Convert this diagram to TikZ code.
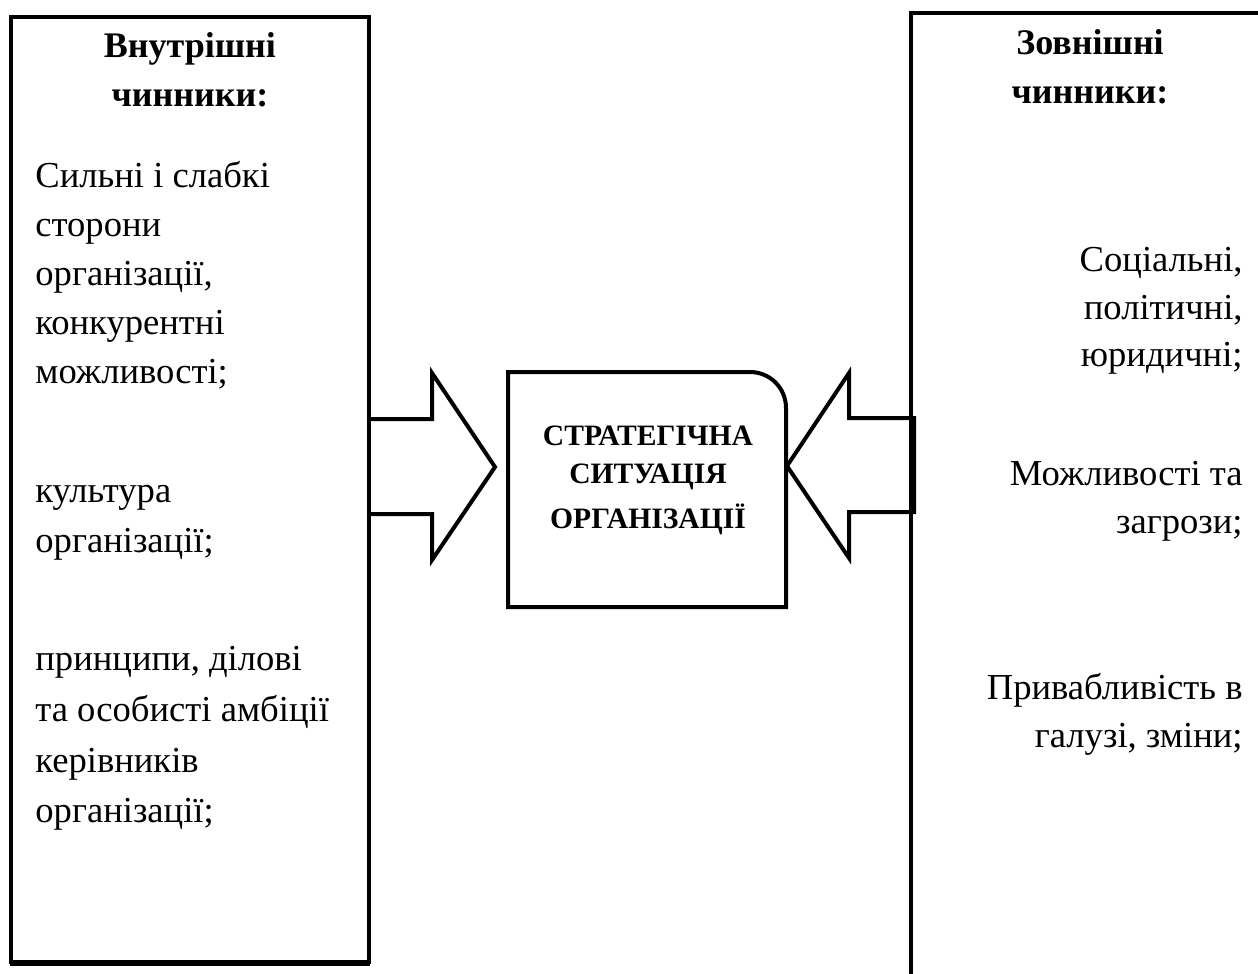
\documentclass[tikz,border=0pt]{standalone}
\usepackage{fontspec}
\setmainfont{Liberation Serif}
\begin{document}
\begin{tikzpicture}[x=0.5pt,y=-0.5pt,
  frame/.style={line width=2pt,line cap=rect},
  blockarrow/.style={line width=2pt,line join=miter},
  body/.style={inner sep=0pt,font=\fontsize{18.3}{22}\selectfont},
  lbody/.style={body,anchor=base west},
  rbody/.style={body,anchor=base east},
  head/.style={inner sep=0pt,anchor=base,font=\fontsize{18}{22}\bfseries\selectfont},
  ctext/.style={inner sep=0pt,anchor=base,font=\fontsize{14.8}{18}\bfseries\selectfont}]
\useasboundingbox (0,0) rectangle (1258,974);
% left box
\draw[frame] (11,17) rectangle (369,962);
\draw[line width=2.5pt] (10,963) -- (370,963);
% right box
\draw[frame,line cap=butt] (911,974) -- (911,13) -- (1258,13);
% left block arrow
\draw[blockarrow] (369,419) -- (432,419) -- (432,373) -- (495,467) -- (432,560) -- (432,514) -- (369,514);
% right block arrow
\draw[blockarrow] (914,418) -- (849,418) -- (849,373) -- (787,466) -- (849,558) -- (849,512) -- (914,512) -- cycle;
% centre box
\draw[line width=2pt] (786,607) -- (508,607) -- (508,372) -- (750,372) .. controls (770,372) and (786,388) .. (786,408) -- cycle;
\node[ctext] (c1) at (648,445) {СТРАТЕГІЧНА};
\node[ctext] (c2) at (648,483) {СИТУАЦІЯ};
\node[ctext] (c3) at (648,528) {ОРГАНІЗАЦІЇ};
% left texts
\node[head] (lh1) at (190,58) {Внутрішні};
\node[head] (lh2) at (190,106) {чинники:};
\node[lbody] (l1) at (35,187) {Сильні і слабкі};
\node[lbody] (l2) at (35,236) {сторони};
\node[lbody] (l3) at (35,285) {організації,};
\node[lbody] (l4) at (35,334) {конкурентні};
\node[lbody] (l5) at (35,383) {можливості;};
\node[lbody] (l6) at (35,502) {культура};
\node[lbody] (l7) at (35,552) {організації;};
\node[lbody] (l8) at (35,670) {принципи, ділові};
\node[lbody] (l9) at (35,721) {та особисті амбіції};
\node[lbody] (l10) at (35,772) {керівників};
\node[lbody] (l11) at (35,822) {організації;};
% right texts
\node[head] (rh1) at (1090,55) {Зовнішні};
\node[head] (rh2) at (1090,104) {чинники:};
\node[rbody] (r1) at (1243,271) {Соціальні,};
\node[rbody] (r2) at (1243,319) {політичні,};
\node[rbody] (r3) at (1243,366) {юридичні;};
\node[rbody] (r4) at (1243,485) {Можливості та};
\node[rbody] (r5) at (1243,533) {загрози;};
\node[rbody] (r6) at (1243,699) {Привабливість в};
\node[rbody] (r7) at (1243,747) {галузі, зміни;};
\end{tikzpicture}
\end{document}
